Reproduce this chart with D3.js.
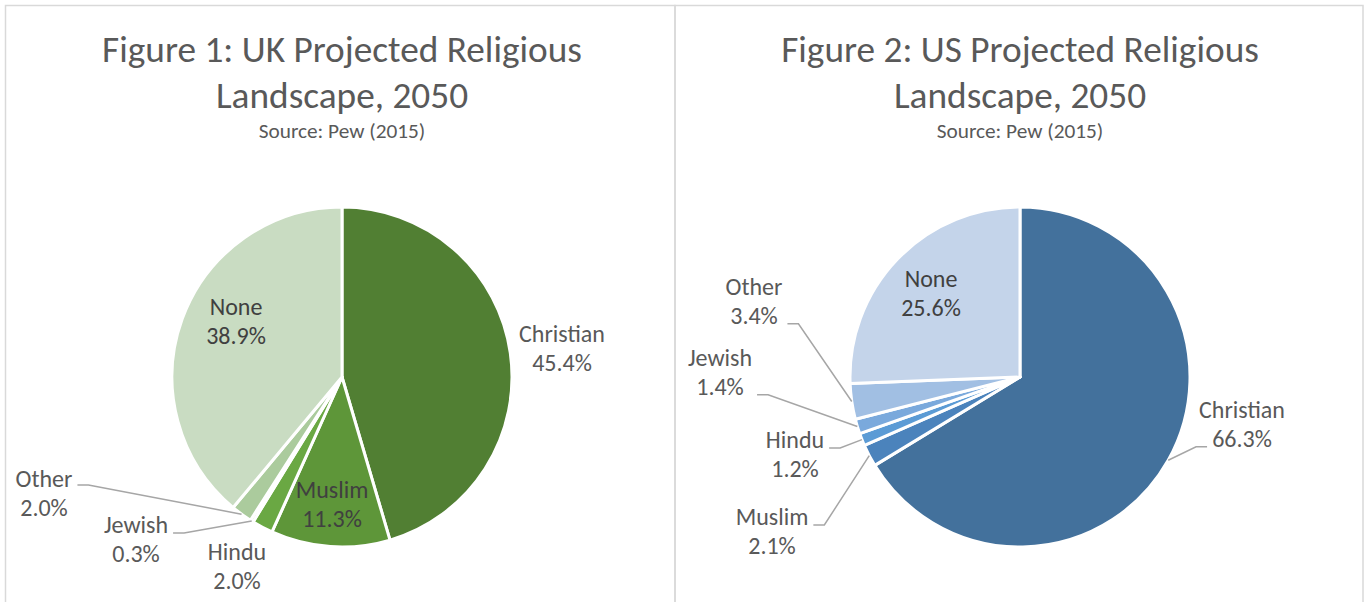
<!DOCTYPE html>
<html>
<head>
<meta charset="utf-8">
<script src="https://cdn.jsdelivr.net/npm/d3@7"></script>
<style>
  body { margin: 0; background: #fff; }
  svg text { font-family: Calibri, Carlito, Lato, sans-serif; }
</style>
</head>
<body>
<svg id="chart" width="1369" height="602"></svg>
<script>
// data
const categories = ["Christian", "Muslim", "Hindu", "Jewish", "Other", "None"];
const ukValues = [45.4, 11.3, 2.0, 0.3, 2.0, 38.9];
const usValues = [66.3, 2.1, 1.2, 1.4, 3.4, 25.6];
const ukTitle = ["Figure 1: UK Projected Religious", "Landscape, 2050"];
const usTitle = ["Figure 2: US Projected Religious", "Landscape, 2050"];
const sourceText = "Source: Pew (2015)";

// colours
const ukColors = ["#517f33", "#5e9639", "#6aa843", "#8dbb74", "#abcb9d", "#c9dcc2"];
const usColors = ["#43719c", "#4b83bc", "#5b9bd5", "#7aa9dc", "#a1bfe3", "#c4d4ea"];

// label layout: offset of label centre / first baseline from pie centre,
// inside flag, leader attach line (-1 = none) and side the leader leaves from
const ukLabels = [
    {dx: 220, dy: -35, inside: false, leader: -1},
    {dx: -10, dy: 121, inside: true, leader: -1},
    {dx: -105, dy: 183, inside: false, leader: -1},
    {dx: -206, dy: 156, inside: false, leader: 0, side: "left", ay: 0},
    {dx: -298, dy: 110, inside: false, leader: 0, side: "left", ay: -2},
    {dx: -106, dy: -62, inside: true, leader: -1}
];
const usLabels = [
    {dx: 222, dy: 41, inside: false, leader: 1, side: "right", ay: 0},
    {dx: -248, dy: 148, inside: false, leader: 0, side: "left", ay: 0},
    {dx: -225, dy: 71, inside: false, leader: 0, side: "left", ay: 0},
    {dx: -300, dy: -11, inside: false, leader: 1, side: "left", ay: 0},
    {dx: -266, dy: -82, inside: false, leader: 1, side: "left", ay: 0},
    {dx: -89, dy: -90, inside: true, leader: -1}
];

const svg = d3.select("#chart");
const radius = 170;
const lineGap = 28.8;

// panel borders
svg.append("rect").attr("x", 5.5).attr("y", 5.5).attr("width", 669.5).attr("height", 700)
    .attr("fill", "none").attr("stroke", "#d9d9d9").attr("stroke-width", 1.5);
svg.append("rect").attr("x", 675).attr("y", 5.5).attr("width", 688).attr("height", 700)
    .attr("fill", "none").attr("stroke", "#d9d9d9").attr("stroke-width", 1.5);

const drawPie = (cx, cy, values, colors, labels, title) => {
    let g = svg.append("g");

    // titles
    g.selectAll(".title").data(title).enter().append("text")
        .attr("x", cx).attr("y", (d, i) => 61.5 + i * 46.5)
        .attr("text-anchor", "middle").attr("font-size", 37.3).attr("fill", "#595959")
        .text(d => d);
    g.append("text").attr("x", cx).attr("y", 137.5)
        .attr("text-anchor", "middle").attr("font-size", 21.3).attr("fill", "#595959")
        .text(sourceText);

    let pie = d3.pie().sort(null).value(d => d.value);
    let arc = d3.arc().innerRadius(0).outerRadius(radius);
    let data = categories.map((c, i) => ({name: c, value: values[i], color: colors[i], lab: labels[i]}));
    let arcs = pie(data);

    let pieG = g.append("g").attr("transform", `translate(${cx},${cy})`);
    pieG.selectAll("path").data(arcs).enter().append("path")
        .attr("d", arc)
        .attr("fill", d => d.data.color)
        .attr("stroke", "#fff").attr("stroke-width", 3).attr("stroke-linejoin", "round");

    // labels
    arcs.forEach(a => {
        let lab = a.data.lab;
        let t = pieG.append("text")
            .attr("text-anchor", "middle").attr("font-size", 24)
            .attr("fill", lab.inside ? "#404040" : "#595959");
        let lines = [a.data.name, a.data.value.toFixed(1) + "%"];
        lines.forEach((l, i) => {
            t.append("tspan").attr("x", lab.dx).attr("y", lab.dy + i * lineGap).text(l);
        });

        if (lab.leader >= 0) {
            let box = t.node().getBBox();
            let mid = (a.startAngle + a.endAngle) / 2;
            let ex = radius * Math.sin(mid);
            let ey = -radius * Math.cos(mid);
            let sy = lab.dy + lab.leader * lineGap + lab.ay;
            let sx, kx;
            if (lab.side == "left") {
                sx = box.x + box.width + 5;
                kx = sx + 11;
            } else {
                sx = box.x + 8;
                kx = sx - 11;
            }
            pieG.append("path")
                .attr("d", d3.line()([[sx, sy], [kx, sy], [ex, ey]]))
                .attr("fill", "none").attr("stroke", "#a6a6a6").attr("stroke-width", 1.5);
        }
    });
};

drawPie(342, 377, ukValues, ukColors, ukLabels, ukTitle);
drawPie(1020, 377, usValues, usColors, usLabels, usTitle);
</script>
</body>
</html>
